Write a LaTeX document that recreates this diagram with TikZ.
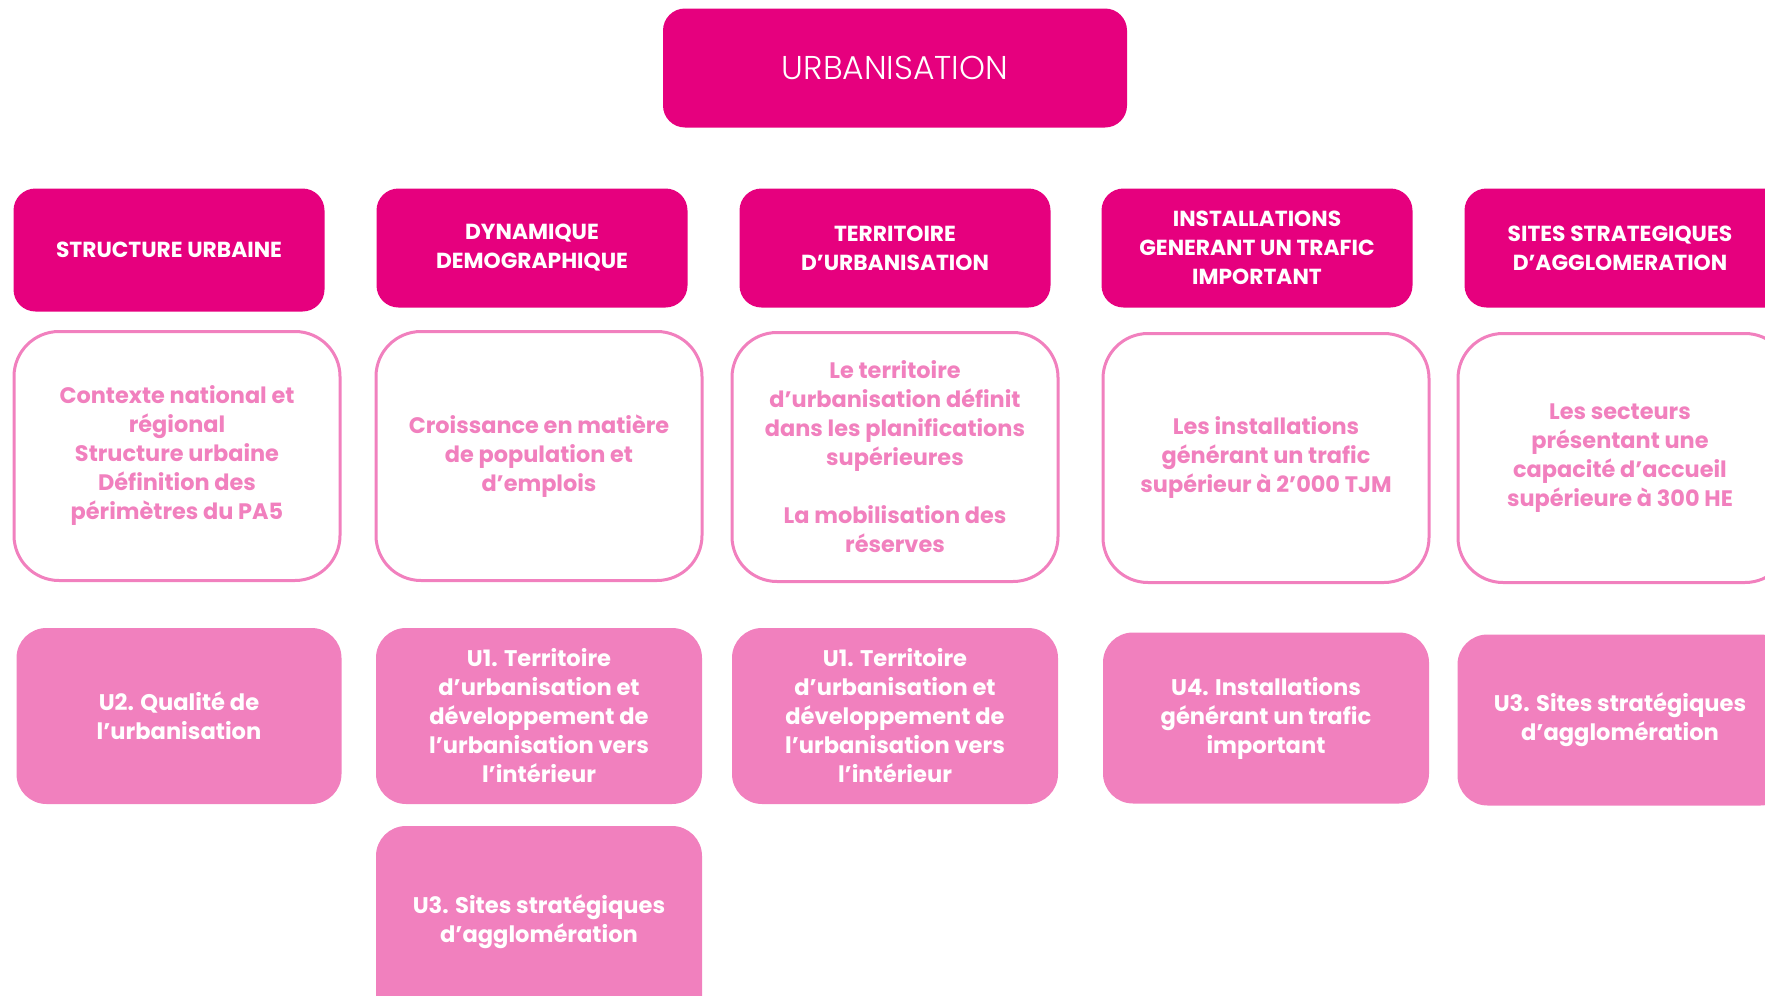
\documentclass[tikz,border=0pt]{standalone}
\usepackage{fontspec}
\setmainfont{Poppins}
\newfontfamily\thinfont{Poppins}[UprightFont=* Light]
\usetikzlibrary{positioning}
\definecolor{magentaU}{HTML}{E6007E}
\definecolor{pinkU}{HTML}{F180BE}

\begin{document}
\begin{tikzpicture}[x=1pt,y=-1pt,
  head/.style={fill=magentaU, rounded corners=22pt, text=white, align=center,
    minimum width=311pt, minimum height=119pt, inner sep=0pt,
    font=\fontsize{21.8}{29}\selectfont\bfseries},
  desc/.style={draw=pinkU, line width=3pt, fill=white, rounded corners=45pt, text=pinkU,
    minimum width=326pt, minimum height=249pt, inner sep=0pt,
    align=center, font=\fontsize{22.4}{29}\selectfont\bfseries},
  goal/.style={fill=pinkU, rounded corners=30pt, text=white, align=center,
    minimum width=326pt, minimum height=176pt, inner sep=0pt,
    font=\fontsize{22.6}{29}\selectfont\bfseries}]
\useasboundingbox (0,0) rectangle (1765,996);
% top
\node[fill=magentaU, rounded corners=22pt, text=white, minimum width=464pt, minimum height=119pt,
  font=\fontsize{33}{38}\selectfont\thinfont] (urb) at (895,68) {URBANISATION};
% headers
\node[head, minimum height=123pt] (h1) at (169,250) {STRUCTURE URBAINE};
\node[head] (h2) at (532,248) {DYNAMIQUE\\DEMOGRAPHIQUE};
\node[head] (h3) at (895,248) {TERRITOIRE\\D’URBANISATION};
\node[head] (h4) at (1257,248) {INSTALLATIONS\\GENERANT UN TRAFIC\\IMPORTANT};
\node[head, minimum width=325pt] (h5) at (1627,248) {\hspace*{-14pt}SITES STRATEGIQUES\\\hspace*{-14pt}D’AGGLOMERATION};
% descriptions
\node[desc] (d1) at (177,456)
  {Contexte national et\\régional\\Structure urbaine\\Définition des\\périmètres du PA5};
\node[desc] (d2) at (539,456)
  {Croissance en matière\\de population et\\d’emplois};
\node[desc] (d3) at (895,457)
  {Le territoire\\d’urbanisation définit\\dans les planifications\\supérieures\\[29pt]La mobilisation des\\réserves};
\node[desc] (d4) at (1266,458)
  {Les installations\\générant un trafic\\supérieur à 2’000 TJM};
\node[desc, minimum width=332pt] (d5) at (1624,458)
  {\hspace*{-8pt}Les secteurs\\\hspace*{-8pt}présentant une\\\hspace*{-8pt}capacité d’accueil\\\hspace*{-8pt}supérieure à 300 HE};
% measures
\node[goal, minimum width=325pt] (m1) at (179,716) {U2. Qualité de\\l’urbanisation};
\node[goal] (m2) at (539,716) {U1. Territoire\\d’urbanisation et\\développement de\\l’urbanisation vers\\l’intérieur};
\node[goal] (m3) at (895,716) {U1. Territoire\\d’urbanisation et\\développement de\\l’urbanisation vers\\l’intérieur};
\node[goal, minimum height=171pt] (m4) at (1266,718) {U4. Installations\\générant un trafic\\important};
\node[goal, minimum width=333pt, minimum height=171pt] (m5) at (1624,720)
  {\hspace*{-8pt}U3. Sites stratégiques\\\hspace*{-8pt}d’agglomération};
\node[goal, minimum height=204pt] (m6) at (539,928) {\\[-22pt]U3. Sites stratégiques\\d’agglomération};
\end{tikzpicture}
\end{document}
